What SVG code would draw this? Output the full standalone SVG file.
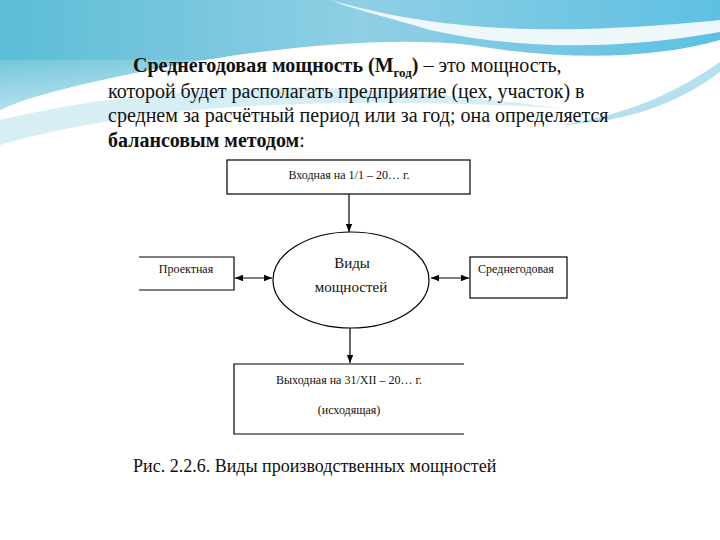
<svg xmlns="http://www.w3.org/2000/svg" width="720" height="540" viewBox="0 0 720 540">
<defs>
<linearGradient id="sky" x1="0" y1="0" x2="1" y2="0">
<stop offset="0" stop-color="#5bbdd6"/><stop offset="0.5" stop-color="#8fcfe4"/><stop offset="1" stop-color="#5ec0e2"/>
</linearGradient>
<linearGradient id="fade" x1="0" y1="0" x2="0" y2="1">
<stop offset="0" stop-color="#fff" stop-opacity="0"/><stop offset="1" stop-color="#fff" stop-opacity="0.9"/>
</linearGradient>
<marker id="ah" viewBox="0 0 10 10" refX="10" refY="5" markerWidth="7" markerHeight="7" orient="auto-start-reverse"><path d="M0,1 L10,5 L0,9 Z" fill="#000"/></marker>
<style>
.b{fill:#fff;stroke:#000;stroke-width:1.2}
.l{stroke:#000;stroke-width:1.2;fill:none}
.t{font-family:"Liberation Serif",serif;font-size:12px;fill:#111}
.c{font-family:"Liberation Serif",serif;font-size:15px;fill:#111}
.h{font-family:"Liberation Serif",serif;font-size:20px;fill:#111}
.cap{font-family:"Liberation Serif",serif;font-size:18px;fill:#111}
</style>
</defs>
<rect width="720" height="540" fill="#fff"/>
<path d="M0,0 H720 V40 C650,60 560,60 470,45 C380,35 250,50 150,70 C90,82 30,95 0,110 Z" fill="url(#sky)"/>
<path d="M0,60 H720 V40 C650,60 560,60 470,45 C380,35 250,50 150,70 C90,82 30,95 0,110 Z" fill="url(#fade)" opacity="0.6"/>
<path d="M330,0 C420,25 520,40 720,20 V32 C620,50 520,50 430,30 C390,18 350,8 330,0 Z" fill="#eef8fb"/>
<path d="M0,120 C80,100 200,85 330,88 C420,92 500,100 560,108 C450,102 330,100 220,108 C130,115 60,128 0,145 Z" fill="#d8eef5"/>
<path d="M560,125 C630,115 680,90 720,62 V72 C680,102 630,122 560,125 Z" fill="#b5e0ee"/>
<text class="h" x="133" y="72"><tspan font-weight="bold">Среднегодовая мощность (М<tspan style="font-size:13px" dy="5">год</tspan><tspan dy="-5">)</tspan></tspan> – это мощность,</text>
<text class="h" x="108" y="98">которой будет располагать предприятие (цех, участок) в</text>
<text class="h" x="108" y="122">среднем за расчётный период или за год; она определяется</text>
<text class="h" x="108" y="147"><tspan font-weight="bold">балансовым методом</tspan>:</text>
<g id="connectors">
<line class="l" x1="349" y1="194" x2="349" y2="232" marker-end="url(#ah)"/>
<line class="l" x1="235" y1="278" x2="272" y2="278" marker-start="url(#ah)" marker-end="url(#ah)"/>
<line class="l" x1="431" y1="278" x2="469" y2="278" marker-start="url(#ah)" marker-end="url(#ah)"/>
<line class="l" x1="350" y1="328" x2="350" y2="363" marker-end="url(#ah)"/>
</g>
<g id="n-in"><rect class="b" x="227" y="160" width="243" height="34"/><text class="t" x="349" y="179" text-anchor="middle">Входная на 1/1 – 20… г.</text></g>
<g id="n-center"><ellipse class="b" cx="351" cy="280" rx="78" ry="48"/><text class="c" x="352" y="268" text-anchor="middle">Виды</text><text class="c" x="351" y="292" text-anchor="middle">мощностей</text></g>
<g id="n-proj"><path class="l" d="M139,257 H234 V290 H139"/><text class="t" x="186" y="273" text-anchor="middle">Проектная</text></g>
<g id="n-avg"><rect class="b" x="470" y="257" width="97" height="41"/><text class="t" x="516" y="273" text-anchor="middle">Среднегодовая</text></g>
<g id="n-out"><path class="l" d="M464,364 H234 V434 H464"/><text class="t" x="349" y="384" text-anchor="middle">Выходная на 31/XII – 20… г.</text><text class="t" x="349" y="414" text-anchor="middle">(исходящая)</text></g>
<text class="cap" x="133" y="472">Рис. 2.2.6. Виды производственных мощностей</text>
</svg>
